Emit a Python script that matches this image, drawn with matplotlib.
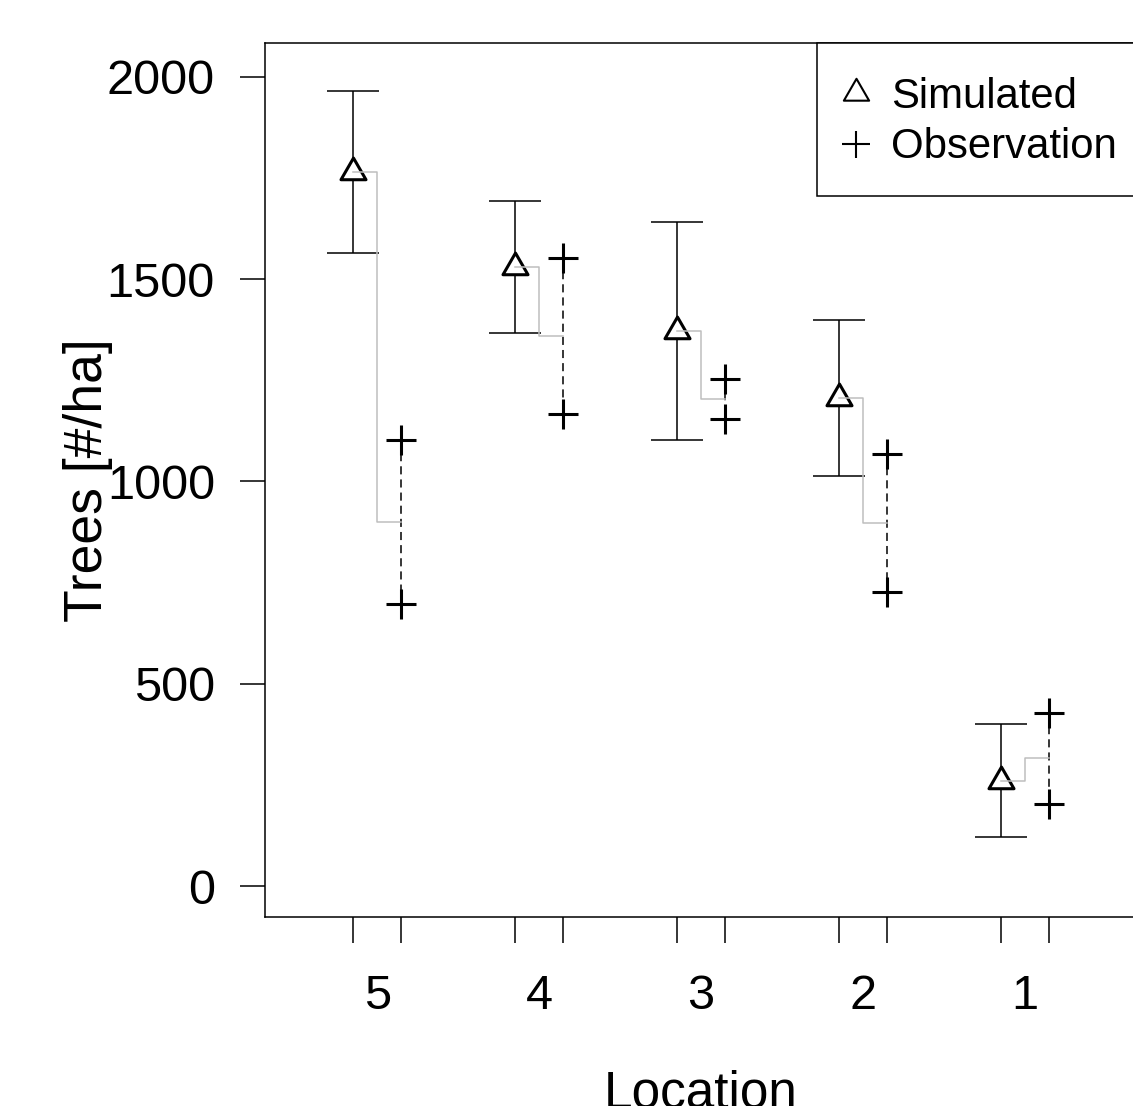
import numpy as np
import matplotlib
matplotlib.use('Agg')
import matplotlib.pyplot as plt
from matplotlib.path import Path
from matplotlib.markers import MarkerStyle
from matplotlib.transforms import Affine2D

# data
locations = ['5', '4', '3', '2', '1']
simulated = [1765, 1530, 1372, 1207, 260]
sim_sd = [200, 163, 270, 193, 140]
obs_high = [1103, 1553, 1253, 1068, 428]
obs_low = [697, 1167, 1155, 727, 203]

plt.rcParams['font.family'] = ['Liberation Sans', 'DejaVu Sans']

centers = np.arange(len(locations))
sim_x = centers - 0.15
obs_x = centers + 0.15
obs_mean = (np.array(obs_high) + np.array(obs_low)) / 2

# open triangle like R's pch = 2 (equilateral, centred on centroid)
tri = Path([(0, 0.577), (-0.5, -0.289), (0.5, -0.289), (0, 0.577)],
           [Path.MOVETO, Path.LINETO, Path.LINETO, Path.CLOSEPOLY])

fig = plt.figure(figsize=(11.33, 11.06), dpi=100)
ax = fig.add_axes([265 / 1133, 1 - 917 / 1106, 872 / 1133, 874 / 1106])

# error bars of the simulation
ax.errorbar(sim_x, simulated, yerr=sim_sd, fmt='none', ecolor='black',
            elinewidth=1.1, capsize=18.4, capthick=1.1, zorder=1)

# dashed range of the two observations
for xo, hi, lo in zip(obs_x, obs_high, obs_low):
    ax.plot([xo, xo], [hi, lo], color='black', lw=1.1, ls='--',
            dashes=(5.3, 3.3), zorder=1)

ax.plot(sim_x, simulated, ls='none', marker=tri, ms=20.8, mfc='white',
        mec='black', mew=2.2, zorder=2)

# grey step from simulated value to mean of observations
for xs, xo, s, m in zip(sim_x, obs_x, simulated, obs_mean):
    ax.step([xs, xo], [s, m], where='mid', color='#bebebe', lw=1.1, zorder=3)

ax.plot(np.repeat(obs_x, 2), np.ravel(np.column_stack([obs_high, obs_low])),
        ls='none', marker='+', ms=21, mec='black', mew=2.2, zorder=4)

# legend handles, nudged down a bit to sit level with the text
leg_tri = MarkerStyle(tri, transform=Affine2D().translate(0, -0.27))
leg_plus = MarkerStyle('+', transform=Affine2D().translate(0, -0.30))
h_sim, = ax.plot([], [], ls='none', marker=leg_tri, ms=21, mfc='white',
                 mec='black', mew=1.5)
h_obs, = ax.plot([], [], ls='none', marker=leg_plus, ms=19.5, mec='black',
                 mew=1.5)
leg = ax.legend([h_sim, h_obs], ['Simulated', 'Observation'],
                loc='upper right', bbox_to_anchor=(1, 1), borderaxespad=0,
                fontsize=30.2, fancybox=False, framealpha=1, edgecolor='black',
                borderpad=0.477, labelspacing=-0.31, handlelength=0.907,
                handleheight=1.937, handletextpad=0.38, numpoints=1)
leg.get_frame().set_linewidth(1.1)

ax.set_xlim(-0.693, 4.693)
ax.set_ylim(-76.6, 2084)

ax.set_yticks([0, 500, 1000, 1500, 2000])
ax.tick_params(axis='y', direction='out', length=18, width=1.1, pad=18,
               labelsize=35, colors='black')

ax.set_xticks(centers)
ax.set_xticklabels(locations)
ax.set_xticks(np.sort(np.concatenate([sim_x, obs_x])), minor=True)
ax.tick_params(axis='x', which='major', length=0, pad=41, labelsize=35)
ax.tick_params(axis='x', which='minor', direction='out', length=18.7,
               width=1.1)

for sp in ax.spines.values():
    sp.set_linewidth(1.1)

ax.set_ylabel('Trees [#/ha]', fontsize=38.5)
ax.set_xlabel('Location', fontsize=37)
ax.yaxis.set_label_coords(-0.174, 0.5)
ax.xaxis.set_label_coords(0.5, -0.174)

fig.savefig('out.png', dpi=100)
